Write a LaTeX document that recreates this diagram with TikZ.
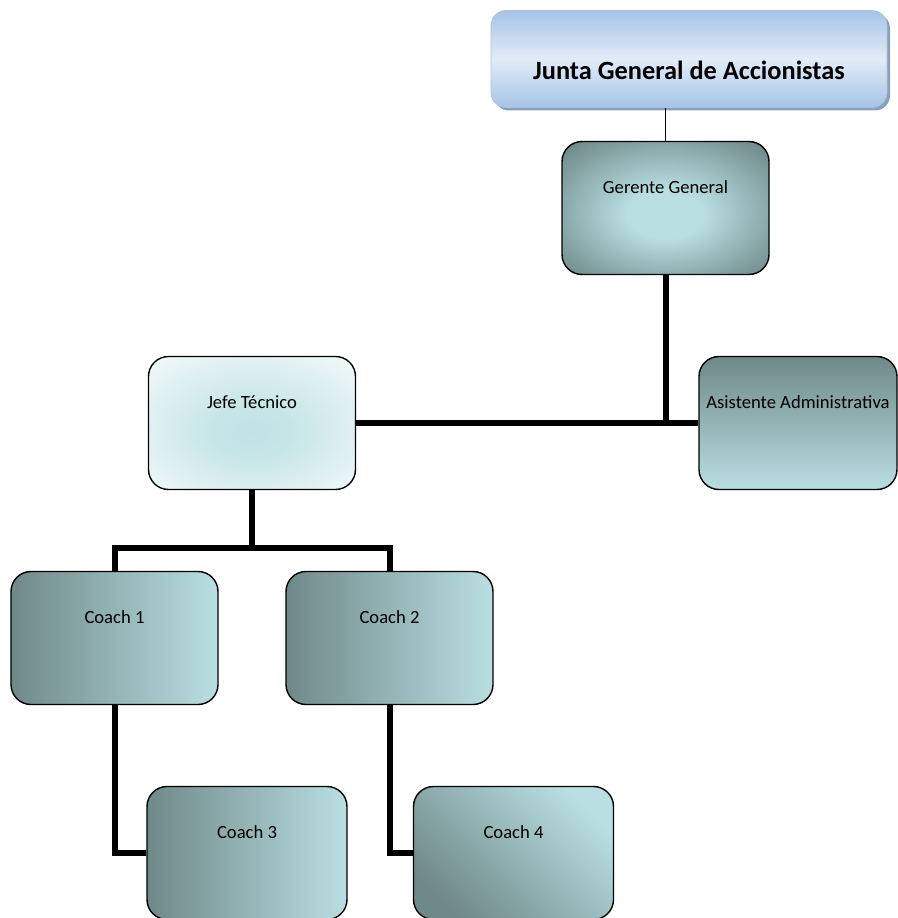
\documentclass[tikz,border=0pt]{standalone}
\usepackage{fontspec}
\setmainfont{Carlito}
\usetikzlibrary{shadows}
\definecolor{TEAL1}{HTML}{6F8989}
\definecolor{TEAL2}{HTML}{B9DFE2}
\definecolor{ICE1}{HTML}{F3F9FA}
\definecolor{BLUE1}{HTML}{A6C4E6}
\definecolor{BLUE2}{HTML}{E2ECF7}
\definecolor{SHADE}{HTML}{8C9FB8}
\pgfdeclareradialshading{wideglow}{\pgfpoint{0bp}{-3bp}}{color(0bp)=(TEAL2); color(9bp)=(TEAL2); color(34bp)=(TEAL1); color(50bp)=(TEAL1)}
\pgfdeclareradialshading{wideice}{\pgfpoint{0bp}{-4bp}}{color(0bp)=(TEAL2!90!white); color(10bp)=(TEAL2!80!white); color(36bp)=(ICE1); color(50bp)=(ICE1)}
\tikzstyle{chart} = [rectangle, rounded corners=0.4cm, draw=black, line width=0.8pt, minimum width=4.14cm, inner ysep=0pt, text height=1.04cm, text depth=1.62cm, font=\fontsize{10.6}{12}\selectfont]
\tikzstyle{headbox} = [rectangle, rounded corners=0.3cm, draw=BLUE1, top color=BLUE1, bottom color=BLUE1, middle color=BLUE2, minimum width=7.92cm, inner ysep=0pt, text height=1.38cm, text depth=0.56cm, font=\fontsize{15}{17}\selectfont\bfseries, drop shadow={shadow xshift=0.06cm, shadow yshift=-0.06cm, fill=SHADE, opacity=1}]
\tikzstyle{glow} = [chart, shading=wideglow]
\tikzstyle{ice} = [chart, shading=wideice]
\tikzstyle{fade} = [chart, top color=TEAL1, bottom color=TEAL2]
\tikzstyle{sweep} = [chart, left color=TEAL1, right color=TEAL2]
\tikzstyle{slant} = [chart, left color=TEAL1, right color=TEAL2, shading angle=135]
\tikzstyle{link} = [line width=0.12cm]
\tikzstyle{thin} = [line width=0.03cm]

\begin{document}
\begin{tikzpicture}[node distance=4.3cm]

\useasboundingbox (0,0) rectangle (17.96,-18.36);

\node (junta) [headbox] at (13.78,-1.18) {Junta General de Accionistas};

\node (gerente) [glow, node distance=2.98cm, below of=junta, xshift=-0.47cm] {Gerente General};

\node (jefe) [ice, below of=gerente, xshift=-8.27cm] {Jefe Técnico};

\node (asist) [fade, minimum width=3.96cm, below of=gerente, xshift=2.65cm] {Asistente Administrativa};

\node (coach1) [sweep, below of=jefe, xshift=-2.75cm] {Coach 1};

\node (coach2) [sweep, below of=jefe, xshift=2.75cm] {Coach 2};

\node (coach3) [sweep, minimum width=4cm, below of=coach1, xshift=2.65cm] {Coach 3};

\node (coach4) [slant, minimum width=4cm, below of=coach2, xshift=2.48cm] {Coach 4};

\draw [thin] (gerente.north) -- (gerente.north |- junta.south);
\draw [link] (gerente.south) -- (gerente.south |- jefe.east);
\draw [link] (jefe.east) -- (asist.west);
\draw [link] (jefe.south) -- ++(0,-1.16) coordinate (split);
\draw [link] (coach1.north) |- (split) -| (coach2.north);
\draw [link] (coach1.south) |- (coach3.west);
\draw [link] (coach2.south) |- (coach4.west);

\end{tikzpicture}
\end{document}
